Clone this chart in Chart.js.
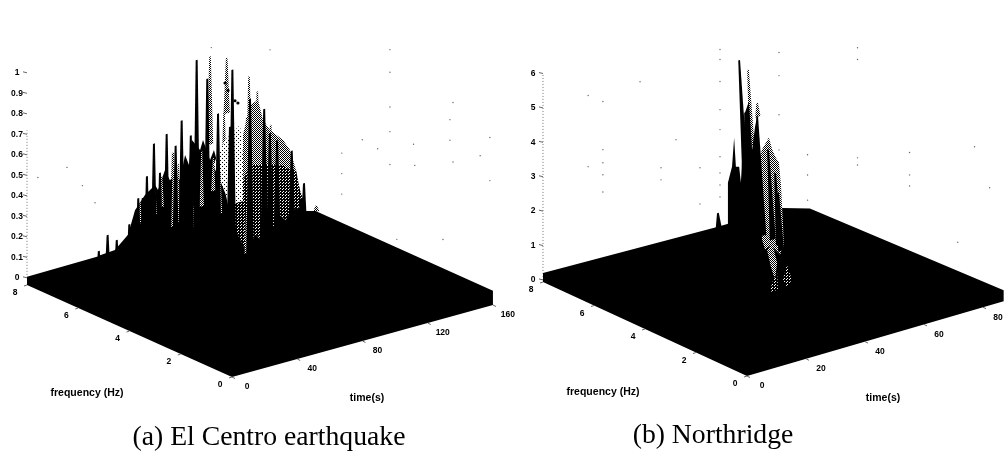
<!DOCTYPE html>
<html><head><meta charset="utf-8">
<style>html,body{margin:0;padding:0;background:#fff;overflow:hidden}canvas{display:block;filter:blur(0.35px)}</style>
<script src="https://cdn.jsdelivr.net/npm/chart.js@4"></script>
</head><body><canvas id="c" width="1004" height="451"></canvas>
<script>
// ---------- (a) El Centro: spectrum read at f = 6 Hz unless noted ----------
const aTimeTicks=[0,40,80,120,160];
const aFreqTicks=[0,2,4,6,8];
const aAmpTicks=[0,0.1,0.2,0.3,0.4,0.5,0.6,0.7,0.8,0.9,1];
const aFloorTime=[0,0,160,160,160,157,60,0];
const aFloorFreq=[8,0,0,0,6.9,7.5,8,8];
const aFloorAmp=[0,0,0,0.07,0.07,0.044,0.045,0.04];
const aMassTime=[12.1,22.5,30.5,34.8,40.9,47.1,48.9,53.2,56.2,59.9,62.4,65.5,67.9,69.7,74.7,76.5,80.8,83.2,85.7,88.1,91.8,96.1,102.2,105.3,112.7,120.6,126.8,132.9,139,145.8,145.8,12.1];
const aMassAmp=[0.227,0.234,0.29,0.40,0.461,0.497,0.468,0.557,0.50,0.517,0.487,0.602,0.548,0.666,0.607,0.652,0.545,0.588,0.509,0.456,0.301,0.243,0.18,0.491,0.523,0.36,0.297,0.211,0.168,0.153,0,0];
const aSpikeTime=[12.6,18,23.6,28.7,31.3,35.4,36.8,39.5,42.1,46.4,50.1,54.2,59.7,63.4,69,72.6,79.1,85.7,93,94.5,105.3,114,117.5,121.9,130.9,138.4,136.6];
const aSpikeAmp=[0.25,0.317,0.28,0.26,0.34,0.40,0.455,0.45,0.55,0.70,0.55,0.73,0.66,0.775,0.69,1.05,0.945,0.76,0.68,0.955,0.79,0.72,0.595,0.55,0.48,0.305,0.235];
const aGreyTime=[80.8,91,89.4,104.7,109.8,103.3,118,121.7,125.7,57.9,74.7,145.8];
const aGreyAmp=[1.05,1.02,0.755,0.90,0.815,0.705,0.635,0.57,0.54,0.63,0.60,0.18];
const aGreyLow=[0.62,0.75,0.35,0.4,0.35,0.2,0.2,0.2,0.2,0.25,0.3,0.15];
const aStreakTime=[37.9,47,51.2,58.3,61.3,70.5,75.7,82.8,86.9,103.3];
const aStreakAmp=[0.43,0.47,0.53,0.63,0.57,0.34,0.60,0.55,0.47,0.27];
const aStreakLow=[0.33,0.35,0.38,0.27,0.28,0.24,0.33,0.39,0.27,0.04];
const aMidTime=[101,105.3,110.2,113.3,117.6,125.5,129.8,133.5,135.9,139,131.7,127,123.7,120,115.7,112,108.4,103.5,101];
const aMidAmp=[0.622,0.759,0.773,0.668,0.61,0.544,0.486,0.38,0.277,0.197,0.189,0.15,0.182,0.13,0.16,0.09,0.118,0.041,0.183];
const aDarkTime=[101,105.3,110.2,117.6,125.5,129.8,133.5,135.9,139,131.7,127,123.7,120,115.7,112,108.4,103.5,101];
const aDarkAmp=[0.40,0.466,0.456,0.44,0.42,0.388,0.38,0.277,0.197,0.189,0.15,0.182,0.13,0.16,0.09,0.118,0.041,0.183];
const aMid2Time=[91.8,103.5,103.5,97.9,94.2];
const aMid2Amp=[0.30,0.30,0.041,0.141,0.247];
const aLightTime=[82.6,90,99.2,103.5,99.2,93,86.9];
const aLightAmp=[0.516,0.622,0.675,0.30,0.285,0.298,0.434];
const aBlobTime=[90,91.8,96.1,97.9];
const aBlobAmp=[0.9,0.86,0.80,0.785];
const aSpeckTime=[160,160,160,160,160,160,160,160,160,160,160,160,160,160,160,160,160,160,160,160,160,24.5,6.7,34,41.7,113,149];
const aSpeckFreq=[5.9,5.9,5.9,4.02,4.02,4.02,4.02,4.02,1.56,0.12,3.1,5.1,4.5,0.5,1.95,3.75,1.68,1.68,3.05,1.56,0.12,8,8,8,8,8,8];
const aSpeckAmp=[0.41,0.31,0.21,1.02,0.91,0.74,0.62,0.46,0.9,0.81,0.61,0.52,0.51,0.70,0.21,0.11,0.81,0.71,0.51,0.61,0.6,0.52,0.51,0.41,0.31,0.91,0.82];

// ---------- (b) Northridge: spectrum read at f = 6 Hz, patches at f = 2 Hz ----------
const bTimeTicks=[0,20,40,60,80];
const bFreqTicks=[0,2,4,6,8];
const bAmpTicks=[0,1,2,3,4,5,6];
const bFloorTime=[0,0,87,87,87,81,59,0];
const bFloorFreq=[8,0,0,0,7.6,8,8,8];
const bFloorAmp=[0,0,0,0.32,0.1,0.125,0.125,0.26];
const bMassTime=[45.1,45.4,46.8,47.5,48.1,49.2,49.8,50.5,51.2,52.5,53.6,54.6,55.3,55.9,56.9,59,60,61.7,63.1,64.1,64.1,45.1];
const bMassAmp=[1.2,2.43,2.87,3.69,2.83,2.80,2.32,3.47,4.33,4.62,3.19,3.84,4.11,2.84,0.98,2.38,1.57,1.62,1.20,1.24,0,0];
const bSpikeTime=[49.2,55.3,59,61.4,62.4,42,51.2];
const bSpikeAmp=[5.90,4.11,3.05,2.32,1.7,1.64,4.33];
const bSpikeLow=[2.4,0.6,0.4,0.2,0,1.2,0.5];
const bGreyTime=[52.2,55.3,50.5];
const bGreyAmp=[5.55,4.5,4.29];
const bGreyLow=[3.3,4.1,3.3];
const bPatch1Time=[21.4,22.4,24.7,25.8,26.8,28.1,28.8,29.5,29.8,28.5,26.8,25.1,23.4,22.4,21.7];
const bPatch1Amp=[5.08,5.34,5.63,5.26,5.03,4.82,4.16,2.98,2.38,2.13,2.32,2.50,2.40,2.72,3.90];
const bPatch2Time=[24.1,25.8,27.5,26.8,25.4];
const bPatch2Amp=[2.38,2.55,1.92,1.44,1.85];
const bPatch3Time=[25.8,27.5,27.8,25.1];
const bPatch3Amp=[1.38,1.63,1.13,1.13];
const bPatch4Time=[29.5,30.8,32.5,30.8];
const bPatch4Amp=[1.37,1.78,1.30,1.14];
const bSpeckTime=[60,60,60,60,60,60,60,60,60,20.3,20.3,20.3,20.3,20.3,15.3,15.3,32.9,40,40,53.2,53.2,45.1,80,80,80,80,80,87,87,87,87,87,87,87,87,87,87,87,87,87];
const bSpeckFreq=[8,8,8,8,8,8,8,8,8,8,8,8,8,8,8,8,8,8,8,8,8,8,8,8,8,8,8,7.69,7.69,7.69,5.73,5.73,5.73,5.73,3.69,3.69,3.69,1.14,0.55,1.8];
const bSpeckAmp=[5.26,4.97,4.33,3.51,2.93,2.14,1.67,1.32,0.97,4.74,3.34,2.96,2.61,2.11,5.04,2.97,5.0,2.32,1.97,1.99,0.94,3.01,4.67,4.0,2.86,1.84,1.11,1.63,1.04,0.31,5.41,5.07,2.21,2.0,3.06,2.41,2.09,4.1,3.11,1.1];

const captionA='(a) El Centro earthquake';
const captionB='(b) Northridge';

// ---------- oblique projection of each panel onto the chart's scales ----------
const PA={ox:232,oy:377,tx:1.631,ty:-0.45,fx:-25.625,fy:-11.5,zs:205,base:0.035,hw:2.4,tip:0.6,lean:0};
const PB={ox:747,oy:376,tx:2.95,ty:-0.86,fx:-25.5,fy:-11.75,zs:34.4,base:0.06,hw:1,tip:0.3,lean:0.6};
const proj=(p,t,f,z)=>({x:p.ox+t*p.tx+f*p.fx,y:p.oy+t*p.ty+f*p.fy-z*p.zs});

function tile(n,dots,bg,fg){const c=document.createElement('canvas');c.width=c.height=n;const g=c.getContext('2d');
  g.fillStyle=bg;g.fillRect(0,0,n,n);g.fillStyle=fg;dots.forEach(d=>g.fillRect(d[0],d[1],1,1));
  return g.createPattern(c,'repeat');}
const ctx0=document.getElementById('c').getContext('2d');
const MID=tile(2,[[0,0],[1,1]],'#fff','#000');
const LIGHT=tile(4,[[0,0],[2,2]],'#fff','#000');
const DARK=tile(3,[[0,0],[1,2]],'#000','#fff');
const BLACK='#000';

const layers=[];
function poly(points,color){layers.push({data:points,showLine:true,fill:'shape',backgroundColor:color,borderColor:color,borderWidth:0,pointRadius:0,tension:0});}
function area(p,f,ts,as,color){poly(ts.map((t,i)=>proj(p,t,f,as[i])),color);}
function spikes(p,f,ts,as,lows,color,k){ts.forEach((t,i)=>{const lo=lows?lows[i]:0,ft=t+p.lean*(as[i]-lo),h=p.hw*k,w=p.tip*k;
  poly([proj(p,t-w,f,as[i]),proj(p,t+w,f,as[i]),proj(p,ft+h,f,lo),proj(p,ft-h,f,lo)],color);});}
function dots(p,ts,fs,as,r,color){layers.push({data:ts.map((t,i)=>proj(p,t,fs[i],as[i])),showLine:false,pointRadius:r,pointBackgroundColor:color,pointBorderWidth:0});}
function zline(p,top){layers.push({data:[proj(p,0,8,p.base),proj(p,0,8,top+p.base)],showLine:true,borderColor:'#777',borderWidth:1,borderDash:[1,2],pointRadius:0,fill:false});}

// panel a, back to front
dots(PA,aSpeckTime,aSpeckFreq,aSpeckAmp,0.7,'#666');
zline(PA,0.72);
spikes(PA,6,aGreyTime,aGreyAmp,aGreyLow,MID,0.8);
poly(aFloorTime.map((t,i)=>proj(PA,t,aFloorFreq[i],aFloorAmp[i])),BLACK);
area(PA,6,aMassTime,aMassAmp,BLACK);
area(PA,6,aLightTime,aLightAmp,LIGHT);
area(PA,6,aMid2Time,aMid2Amp,DARK);
area(PA,6,aMidTime,aMidAmp,MID);
area(PA,6,aDarkTime,aDarkAmp,DARK);
spikes(PA,6,aStreakTime,aStreakAmp,aStreakLow,MID,0.55);
spikes(PA,6,aSpikeTime,aSpikeAmp,null,BLACK,1);
dots(PA,aBlobTime,aBlobTime.map(()=>6),aBlobAmp,1.6,BLACK);

// panel b, back to front
dots(PB,bSpeckTime,bSpeckFreq,bSpeckAmp,0.7,'#666');
zline(PB,6);
spikes(PB,6,bGreyTime,bGreyAmp,bGreyLow,MID,0.9);
poly(bFloorTime.map((t,i)=>proj(PB,t,bFloorFreq[i],bFloorAmp[i])),BLACK);
area(PB,6,bMassTime,bMassAmp,BLACK);
area(PB,2,bPatch1Time,bPatch1Amp,MID);
area(PB,2,bPatch2Time,bPatch2Amp,MID);
area(PB,2,bPatch3Time,bPatch3Amp,DARK);
area(PB,2,bPatch4Time,bPatch4Amp,DARK);
spikes(PB,6,bSpikeTime,bSpikeAmp,bSpikeLow,BLACK,1);

// text and tick marks, placed through the chart's scales
const annotate={id:'annotate',afterDatasetsDraw(chart){
  const g=chart.ctx,X=chart.scales.x,Y=chart.scales.y;
  const px=q=>X.getPixelForValue(q.x),py=q=>Y.getPixelForValue(q.y);
  function axisText(p,times,freqs,amps,fLab,tLab,ampOff){
    g.fillStyle='#000';g.strokeStyle='#666';g.lineWidth=1;
    g.font='bold 8.5px "Liberation Sans"';g.textAlign='center';g.textBaseline='middle';
    times.forEach(t=>{const q=proj(p,t,0,0);g.fillText(String(t),px(q)+15,py(q)+10);
      g.beginPath();g.moveTo(px(q),py(q));g.lineTo(px(q)+3,py(q)+1.5);g.stroke();});
    freqs.forEach(f=>{const q=proj(p,0,f,0);g.fillText(String(f),px(q)-12,py(q)+8);
      g.beginPath();g.moveTo(px(q),py(q));g.lineTo(px(q)-3,py(q)+1);g.stroke();});
    amps.forEach(z=>{const q=proj(p,0,8,z+p.base);g.fillText(String(z),px(q)-ampOff,py(q));
      g.beginPath();g.moveTo(px(q),py(q));g.lineTo(px(q)-4,py(q)-1);g.stroke();});
    g.font='bold 10.5px "Liberation Sans"';
    g.fillText('frequency (Hz)',fLab[0],fLab[1]);
    g.fillText('time(s)',tLab[0],tLab[1]);
  }
  axisText(PA,aTimeTicks,aFreqTicks,aAmpTicks,[87,393],[367,398],10);
  axisText(PB,bTimeTicks,bFreqTicks,bAmpTicks,[603,392],[883,398],10);
  g.fillStyle='#000';g.font='27.7px "Liberation Serif"';g.textAlign='center';g.textBaseline='alphabetic';
  g.fillText(captionA,269,445);
  g.fillText(captionB,713,443);
}};

new Chart(ctx0,{type:'scatter',data:{datasets:layers.reverse()},plugins:[annotate],options:{
  responsive:false,animation:false,events:[],
  layout:{padding:0,autoPadding:false},
  plugins:{legend:{display:false},tooltip:{enabled:false},title:{display:false}},
  scales:{x:{type:'linear',min:0,max:1004,display:false},y:{type:'linear',min:0,max:451,reverse:true,display:false}}
}});
</script></body></html>
